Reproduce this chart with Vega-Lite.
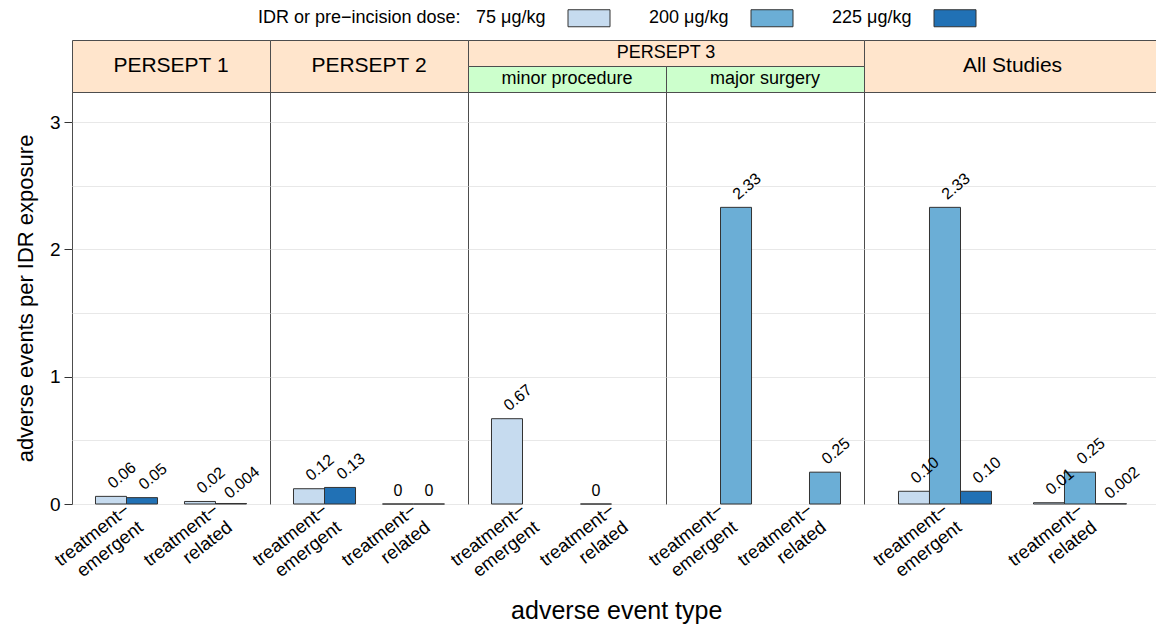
{
  "$schema": "https://vega.github.io/schema/vega-lite/v6.json",
  "padding": {"left": 13, "top": 7, "right": 0, "bottom": 0},
  "datasets": {
    "bars": [
      {"panel": "PERSEPT 1", "type": "treatment−emergent", "dose": "75 μg/kg", "value": 0.06, "label": "0.06"},
      {"panel": "PERSEPT 1", "type": "treatment−emergent", "dose": "225 μg/kg", "value": 0.05, "label": "0.05"},
      {"panel": "PERSEPT 1", "type": "treatment−related", "dose": "75 μg/kg", "value": 0.02, "label": "0.02"},
      {"panel": "PERSEPT 1", "type": "treatment−related", "dose": "225 μg/kg", "value": 0.004, "label": "0.004"},
      {"panel": "PERSEPT 2", "type": "treatment−emergent", "dose": "75 μg/kg", "value": 0.12, "label": "0.12"},
      {"panel": "PERSEPT 2", "type": "treatment−emergent", "dose": "225 μg/kg", "value": 0.13, "label": "0.13"},
      {"panel": "PERSEPT 2", "type": "treatment−related", "dose": "75 μg/kg", "value": 0, "label": "0"},
      {"panel": "PERSEPT 2", "type": "treatment−related", "dose": "225 μg/kg", "value": 0, "label": "0"},
      {"panel": "minor procedure", "type": "treatment−emergent", "dose": "75 μg/kg", "value": 0.67, "label": "0.67"},
      {"panel": "minor procedure", "type": "treatment−related", "dose": "75 μg/kg", "value": 0, "label": "0"},
      {"panel": "major surgery", "type": "treatment−emergent", "dose": "200 μg/kg", "value": 2.33, "label": "2.33"},
      {"panel": "major surgery", "type": "treatment−related", "dose": "200 μg/kg", "value": 0.25, "label": "0.25"},
      {"panel": "All Studies", "type": "treatment−emergent", "dose": "75 μg/kg", "value": 0.10, "label": "0.10"},
      {"panel": "All Studies", "type": "treatment−emergent", "dose": "200 μg/kg", "value": 2.33, "label": "2.33"},
      {"panel": "All Studies", "type": "treatment−emergent", "dose": "225 μg/kg", "value": 0.10, "label": "0.10"},
      {"panel": "All Studies", "type": "treatment−related", "dose": "75 μg/kg", "value": 0.01, "label": "0.01"},
      {"panel": "All Studies", "type": "treatment−related", "dose": "200 μg/kg", "value": 0.25, "label": "0.25"},
      {"panel": "All Studies", "type": "treatment−related", "dose": "225 μg/kg", "value": 0.002, "label": "0.002"}
    ]
  },
  "title": {"text": "adverse event type", "orient": "bottom", "anchor": "middle", "fontSize": 25, "fontWeight": "normal", "color": "black", "offset": 12, "dx": 29},
  "spacing": 26,
  "bounds": "flush",
  "resolve": {"scale": {"color": "shared"}, "legend": {"color": "shared"}},
  "vconcat": [
    {
      "hconcat": [
        {"width": 198, "height": 52, "view": {"fill": "#ffe5cc", "stroke": "#4d4d4d"}, "data": {"values": [{"s": "PERSEPT 1"}]}, "mark": {"type": "text", "fontSize": 21, "color": "black"}, "encoding": {"text": {"field": "s"}}},
        {"width": 198, "height": 52, "view": {"fill": "#ffe5cc", "stroke": "#4d4d4d"}, "data": {"values": [{"s": "PERSEPT 2"}]}, "mark": {"type": "text", "fontSize": 21, "color": "black"}, "encoding": {"text": {"field": "s"}}},
        {"width": 396, "height": 26, "view": {"fill": "#ffe5cc", "stroke": "#4d4d4d"}, "data": {"values": [{"s": "PERSEPT 3"}]}, "mark": {"type": "text", "fontSize": 18, "color": "black"}, "encoding": {"text": {"field": "s"}}},
        {"width": 297, "height": 52, "view": {"fill": "#ffe5cc", "stroke": "#4d4d4d"}, "data": {"values": [{"s": "All Studies"}]}, "mark": {"type": "text", "fontSize": 21, "color": "black"}, "encoding": {"text": {"field": "s"}}}
      ],
      "spacing": 0, "bounds": "flush"
    },
    {
      "hconcat": [
        {"width": 396, "height": 26, "view": {"stroke": null, "fill": null}, "data": {"values": [{"s": ""}]}, "mark": {"type": "text"}, "encoding": {"text": {"field": "s"}}},
        {"width": 198, "height": 26, "view": {"fill": "#ccffcc", "stroke": "#4d4d4d"}, "data": {"values": [{"s": "minor procedure"}]}, "mark": {"type": "text", "fontSize": 18, "color": "black"}, "encoding": {"text": {"field": "s"}}},
        {"width": 198, "height": 26, "view": {"fill": "#ccffcc", "stroke": "#4d4d4d"}, "data": {"values": [{"s": "major surgery"}]}, "mark": {"type": "text", "fontSize": 18, "color": "black"}, "encoding": {"text": {"field": "s"}}}
      ],
      "spacing": 0, "bounds": "flush"
    },
    {
      "hconcat": [
        {
          "width": 198, "height": 412,
          "data": {"name": "bars"},
          "transform": [{"filter": "datum.panel === 'PERSEPT 1'"}],
          "encoding": {
            "x": {"field": "type", "type": "nominal", "title": null, "scale": {"domain": ["treatment−emergent", "treatment−related"], "paddingInner": 0.303, "paddingOuter": 0.264},
              "axis": {"labelExpr": "[slice(datum.label,0,10), slice(datum.label,10)]", "labelAngle": -38, "labelAlign": "right", "labelBaseline": "top", "labelFontSize": 18.5, "labelLineHeight": 22, "ticks": false, "domain": false, "labelPadding": -4, "labelOffset": -5, "labelColor": "black"}},
            "xOffset": {"field": "dose", "type": "nominal", "scale": {"domain": ["75 μg/kg", "225 μg/kg"], "paddingInner": 0, "paddingOuter": 0}},
            "y": {"field": "value", "type": "quantitative", "scale": {"domain": [0, 3.236], "nice": false},
              "axis": {"values": [0, 0.5, 1, 1.5, 2, 2.5, 3], "labelExpr": "datum.value % 1 === 0 ? format(datum.value, 'd') : ''", "tickOpacity": {"condition": {"test": "datum.value % 1 !== 0", "value": 0}, "value": 1}, "tickSize": 8, "tickColor": "#333", "labelFontSize": 19, "labelPadding": 4, "labelColor": "black", "domain": false, "grid": true, "gridColor": "#e8e8e8", "title": "adverse events per IDR exposure", "titleFontSize": 22, "titleFontWeight": "normal", "titleColor": "black", "titlePadding": 12}}
          },
          "layer": [
            {"mark": {"type": "bar", "stroke": "#333", "strokeWidth": 1},
             "encoding": {"color": {"field": "dose", "type": "nominal", "scale": {"domain": ["75 μg/kg", "200 μg/kg", "225 μg/kg"], "range": ["#c6dbef", "#6baed6", "#2171b5"]},
               "legend": {"orient": "none", "legendX": 186, "legendY": -33, "direction": "horizontal", "title": "IDR or pre−incision dose:", "titleOrient": "left", "titleAnchor": "middle", "titleBaseline": "middle", "titleLimit": 500, "titleFontSize": 18, "titleFontWeight": "normal", "titleColor": "black", "titlePadding": 4, "labelFontSize": 18, "labelColor": "black", "labelAlign": "right", "labelOffset": -54.5, "labelLimit": 300, "symbolType": "M-2,-0.81H2V0.81H-2Z", "symbolSize": 441, "symbolOffset": 113, "symbolStrokeColor": "#333", "symbolStrokeWidth": 1, "symbolOpacity": 1, "columnPadding": 36}}}},
            {"transform": [{"filter": "datum.value > 0"}], "mark": {"type": "text", "align": "center", "baseline": "middle", "angle": 320, "fontSize": 16, "dx": 21.9, "dy": -9, "color": "black"}, "encoding": {"text": {"field": "label"}}},
            {"transform": [{"filter": "datum.value === 0"}], "mark": {"type": "text", "align": "center", "baseline": "alphabetic", "fontSize": 16, "yOffset": -8, "color": "black"}, "encoding": {"text": {"field": "label"}}}
          ]
        },
        {
          "width": 198, "height": 412,
          "data": {"name": "bars"},
          "transform": [{"filter": "datum.panel === 'PERSEPT 2'"}],
          "encoding": {
            "x": {"field": "type", "type": "nominal", "title": null, "scale": {"domain": ["treatment−emergent", "treatment−related"], "paddingInner": 0.303, "paddingOuter": 0.264},
              "axis": {"labelExpr": "[slice(datum.label,0,10), slice(datum.label,10)]", "labelAngle": -38, "labelAlign": "right", "labelBaseline": "top", "labelFontSize": 18.5, "labelLineHeight": 22, "ticks": false, "domain": false, "labelPadding": -4, "labelOffset": -5, "labelColor": "black"}},
            "xOffset": {"field": "dose", "type": "nominal", "scale": {"domain": ["75 μg/kg", "225 μg/kg"], "paddingInner": 0, "paddingOuter": 0}},
            "y": {"field": "value", "type": "quantitative", "scale": {"domain": [0, 3.236], "nice": false},
              "axis": {"values": [0, 0.5, 1, 1.5, 2, 2.5, 3], "labels": false, "ticks": false, "domain": false, "grid": true, "gridColor": "#e8e8e8", "title": null}}
          },
          "layer": [
            {"mark": {"type": "bar", "stroke": "#333", "strokeWidth": 1},
             "encoding": {"color": {"field": "dose", "type": "nominal", "scale": {"domain": ["75 μg/kg", "200 μg/kg", "225 μg/kg"], "range": ["#c6dbef", "#6baed6", "#2171b5"]}}}},
            {"transform": [{"filter": "datum.value > 0"}], "mark": {"type": "text", "align": "center", "baseline": "middle", "angle": 320, "fontSize": 16, "dx": 21.9, "dy": -9, "color": "black"}, "encoding": {"text": {"field": "label"}}},
            {"transform": [{"filter": "datum.value === 0"}], "mark": {"type": "text", "align": "center", "baseline": "alphabetic", "fontSize": 16, "yOffset": -8, "color": "black"}, "encoding": {"text": {"field": "label"}}}
          ]
        },
        {
          "width": 198, "height": 412,
          "data": {"name": "bars"},
          "transform": [{"filter": "datum.panel === 'minor procedure'"}],
          "encoding": {
            "x": {"field": "type", "type": "nominal", "title": null, "scale": {"domain": ["treatment−emergent", "treatment−related"], "paddingInner": 0.303, "paddingOuter": 0.264},
              "axis": {"labelExpr": "[slice(datum.label,0,10), slice(datum.label,10)]", "labelAngle": -38, "labelAlign": "right", "labelBaseline": "top", "labelFontSize": 18.5, "labelLineHeight": 22, "ticks": false, "domain": false, "labelPadding": -4, "labelOffset": -5, "labelColor": "black"}},
            "xOffset": {"field": "dose", "type": "nominal", "scale": {"domain": ["75 μg/kg", "200 μg/kg"], "paddingInner": 0, "paddingOuter": 0}},
            "y": {"field": "value", "type": "quantitative", "scale": {"domain": [0, 3.236], "nice": false},
              "axis": {"values": [0, 0.5, 1, 1.5, 2, 2.5, 3], "labels": false, "ticks": false, "domain": false, "grid": true, "gridColor": "#e8e8e8", "title": null}}
          },
          "layer": [
            {"mark": {"type": "bar", "stroke": "#333", "strokeWidth": 1},
             "encoding": {"color": {"field": "dose", "type": "nominal", "scale": {"domain": ["75 μg/kg", "200 μg/kg", "225 μg/kg"], "range": ["#c6dbef", "#6baed6", "#2171b5"]}}}},
            {"transform": [{"filter": "datum.value > 0"}], "mark": {"type": "text", "align": "center", "baseline": "middle", "angle": 320, "fontSize": 16, "dx": 21.9, "dy": -9, "color": "black"}, "encoding": {"text": {"field": "label"}}},
            {"transform": [{"filter": "datum.value === 0"}], "mark": {"type": "text", "align": "center", "baseline": "alphabetic", "fontSize": 16, "yOffset": -8, "color": "black"}, "encoding": {"text": {"field": "label"}}}
          ]
        },
        {
          "width": 198, "height": 412,
          "data": {"name": "bars"},
          "transform": [{"filter": "datum.panel === 'major surgery'"}],
          "encoding": {
            "x": {"field": "type", "type": "nominal", "title": null, "scale": {"domain": ["treatment−emergent", "treatment−related"], "paddingInner": 0.303, "paddingOuter": 0.264},
              "axis": {"labelExpr": "[slice(datum.label,0,10), slice(datum.label,10)]", "labelAngle": -38, "labelAlign": "right", "labelBaseline": "top", "labelFontSize": 18.5, "labelLineHeight": 22, "ticks": false, "domain": false, "labelPadding": -4, "labelOffset": -5, "labelColor": "black"}},
            "xOffset": {"field": "dose", "type": "nominal", "scale": {"domain": ["75 μg/kg", "200 μg/kg"], "paddingInner": 0, "paddingOuter": 0}},
            "y": {"field": "value", "type": "quantitative", "scale": {"domain": [0, 3.236], "nice": false},
              "axis": {"values": [0, 0.5, 1, 1.5, 2, 2.5, 3], "labels": false, "ticks": false, "domain": false, "grid": true, "gridColor": "#e8e8e8", "title": null}}
          },
          "layer": [
            {"mark": {"type": "bar", "stroke": "#333", "strokeWidth": 1},
             "encoding": {"color": {"field": "dose", "type": "nominal", "scale": {"domain": ["75 μg/kg", "200 μg/kg", "225 μg/kg"], "range": ["#c6dbef", "#6baed6", "#2171b5"]}}}},
            {"transform": [{"filter": "datum.value > 0"}], "mark": {"type": "text", "align": "center", "baseline": "middle", "angle": 320, "fontSize": 16, "dx": 21.9, "dy": -9, "color": "black"}, "encoding": {"text": {"field": "label"}}},
            {"transform": [{"filter": "datum.value === 0"}], "mark": {"type": "text", "align": "center", "baseline": "alphabetic", "fontSize": 16, "yOffset": -8, "color": "black"}, "encoding": {"text": {"field": "label"}}}
          ]
        },
        {
          "width": 297, "height": 412,
          "data": {"name": "bars"},
          "transform": [{"filter": "datum.panel === 'All Studies'"}],
          "encoding": {
            "x": {"field": "type", "type": "nominal", "title": null, "scale": {"domain": ["treatment−emergent", "treatment−related"], "paddingInner": 0.311, "paddingOuter": 0.2555},
              "axis": {"labelExpr": "[slice(datum.label,0,10), slice(datum.label,10)]", "labelAngle": -38, "labelAlign": "right", "labelBaseline": "top", "labelFontSize": 18.5, "labelLineHeight": 22, "ticks": false, "domain": false, "labelPadding": -4, "labelOffset": -5, "labelColor": "black"}},
            "xOffset": {"field": "dose", "type": "nominal", "scale": {"domain": ["75 μg/kg", "200 μg/kg", "225 μg/kg"], "paddingInner": 0, "paddingOuter": 0}},
            "y": {"field": "value", "type": "quantitative", "scale": {"domain": [0, 3.236], "nice": false},
              "axis": {"values": [0, 0.5, 1, 1.5, 2, 2.5, 3], "labels": false, "ticks": false, "domain": false, "grid": true, "gridColor": "#e8e8e8", "title": null}}
          },
          "layer": [
            {"mark": {"type": "bar", "stroke": "#333", "strokeWidth": 1},
             "encoding": {"color": {"field": "dose", "type": "nominal", "scale": {"domain": ["75 μg/kg", "200 μg/kg", "225 μg/kg"], "range": ["#c6dbef", "#6baed6", "#2171b5"]}}}},
            {"transform": [{"filter": "datum.value > 0"}], "mark": {"type": "text", "align": "center", "baseline": "middle", "angle": 320, "fontSize": 16, "dx": 21.9, "dy": -9, "color": "black"}, "encoding": {"text": {"field": "label"}}},
            {"transform": [{"filter": "datum.value === 0"}], "mark": {"type": "text", "align": "center", "baseline": "alphabetic", "fontSize": 16, "yOffset": -8, "color": "black"}, "encoding": {"text": {"field": "label"}}}
          ]
        }
      ],
      "spacing": 0, "bounds": "flush",
      "resolve": {"scale": {"x": "independent", "y": "independent", "xOffset": "independent", "color": "shared"}}
    }
  ],
  "config": {
    "font": "Liberation Sans",
    "view": {"stroke": "#4d4d4d", "strokeWidth": 1},
    "axis": {"labelFont": "Liberation Sans", "titleFont": "Liberation Sans"},
    "legend": {"labelFont": "Liberation Sans", "titleFont": "Liberation Sans"}
  }
}
